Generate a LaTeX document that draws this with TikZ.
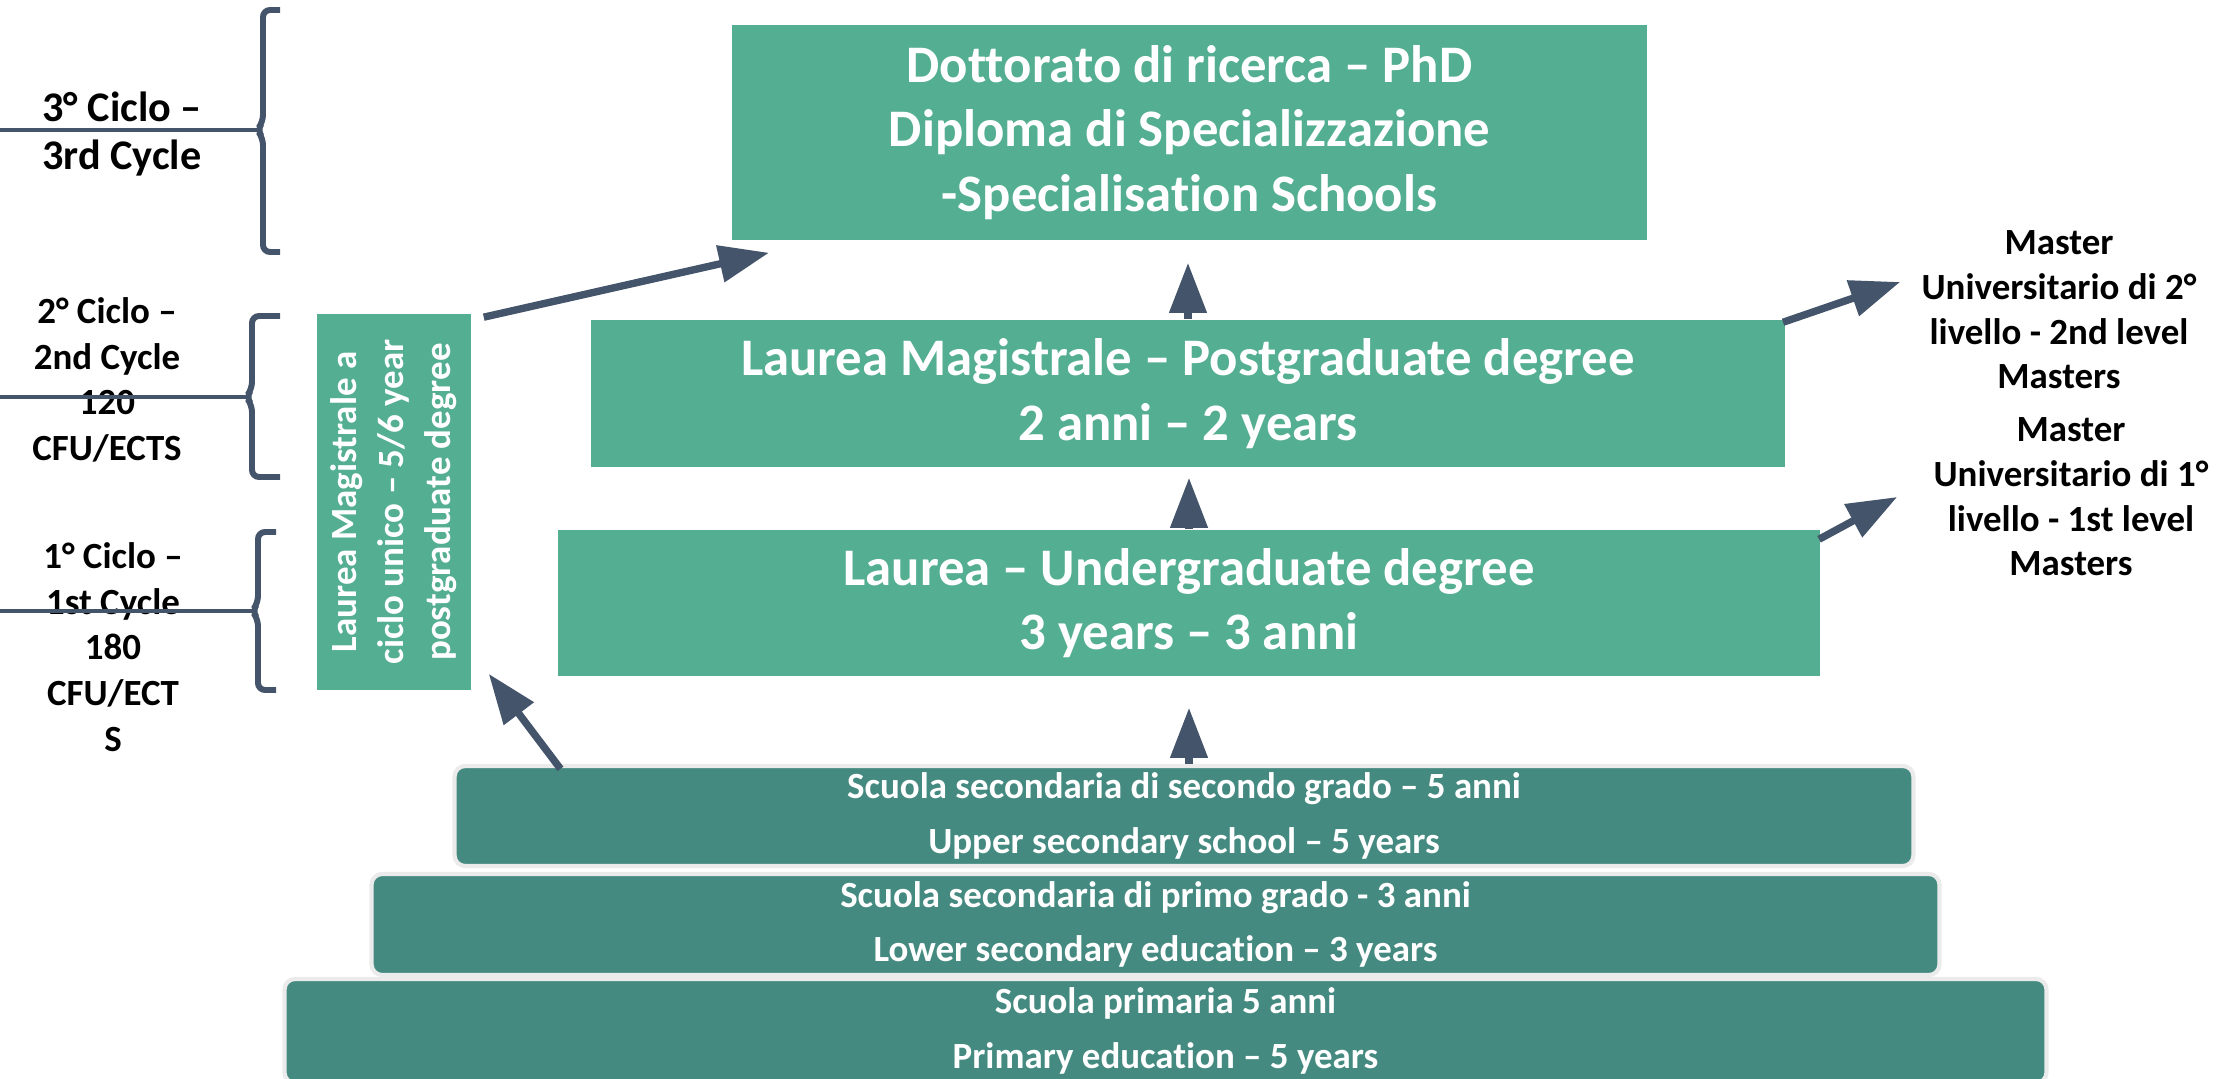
\documentclass[tikz,border=0pt]{standalone}
\usepackage{fontspec}
\setmainfont{Carlito}[Ligatures=NoCommon]
\usepackage{graphicx}
\usetikzlibrary{arrows.meta,calc,positioning}
\definecolor{boxgreen}{RGB}{84,174,145}
\definecolor{boxteal}{RGB}{69,138,128}
\definecolor{linkblue}{RGB}{68,84,106}
\tikzset{
    block/.style = {rectangle, fill=boxgreen, text=white, inner sep=0pt,
        font=\bfseries\fontsize{15}{18.3}\selectfont, align=center},
    school/.style = {rectangle, fill=boxteal, draw=black!8, line width=1.2pt,
        rounded corners=3pt, text=white, inner sep=0pt,
        font=\bfseries\fontsize{10.5}{15.4}\selectfont, align=center},
    cyclelabel/.style = {font=\bfseries\fontsize{10.5}{13}\selectfont, align=center},
    master/.style = {font=\bfseries\fontsize{10.5}{12.7}\selectfont, align=center},
    arrow/.style = {draw=linkblue, line width=2.1pt, -{Triangle[length=5mm,width=3.6mm]}},
    cbrace/.style = {draw=linkblue, line width=1.7pt, rounded corners=2pt},
    edgeline/.style = {draw=linkblue, line width=1pt}
}

\begin{document}
\begin{tikzpicture}[x=0.01cm, y=-0.01cm]
    \useasboundingbox (0,0) rectangle (2217,1079);
    \clip (0,0) rectangle (2217,1079);
    % university degrees
    \node [block, minimum width=9.15cm, minimum height=2.15cm] (phd) at (1189.5,132.5)
        {Dottorato di ricerca – PhD\\ Diploma di Specializzazione\\ -Specialisation Schools};
    \node [block, minimum width=11.94cm, minimum height=1.47cm] (lm) at (1188,393.5)
        {Laurea Magistrale – Postgraduate degree\\ 2 anni – 2 years};
    \node [block, minimum width=12.62cm, minimum height=1.46cm] (lau) at (1189,603)
        {Laurea – Undergraduate degree\\ 3 years – 3 anni};
    \node [block, minimum width=1.54cm, minimum height=3.76cm,
        font=\bfseries\fontsize{10.5}{13.4}\selectfont] (cu) at (394,502)
        {\rotatebox{90}{\begin{tabular}{@{}c@{}}Laurea Magistrale a\\ ciclo unico – 5/6 year\\ postgraduate degree\end{tabular}}};
    % schools
    \node [school, minimum width=14.58cm, minimum height=1.0cm] (upper) at (1184,816)
        {Scuola secondaria di secondo grado – 5 anni\\ Upper secondary school – 5 years};
    \node [school, minimum width=15.67cm, minimum height=1.01cm] (lower) at (1155.5,924.5)
        {Scuola secondaria di primo grado - 3 anni\\ Lower secondary education – 3 years};
    \node [school, minimum width=17.61cm, minimum height=1.04cm] (prim) at (1165.5,1031)
        {Scuola primaria 5 anni\\ Primary education – 5 years};
    % masters
    \node [master] (m2) at (2059,310) {Master\\ Universitario di 2°\\ livello - 2nd level\\ Masters};
    \node [master] (m1) at (2071,497) {Master\\ Universitario di 1°\\ livello - 1st level\\ Masters};
    % cycles
    \node [cyclelabel, font=\bfseries\fontsize{12}{13.7}\selectfont] (c3) at (122,134) {3° Ciclo –\\ 3rd Cycle};
    \node [cyclelabel] (c2) at (107,380) {2° Ciclo –\\ 2nd Cycle\\ 120\\ CFU/ECTS};
    \node [cyclelabel] (c1) at (113,647) {1° Ciclo –\\ 1st Cycle\\ 180\\ CFU/ECT\\ S};
    \draw [cbrace] (280,10) -- (263,10) -- (263,122) -- (257,130) -- (263,138) -- (263,252) -- (280,252);
    \draw [cbrace] (280,316) -- (252,316) -- (252,389) -- (246,397) -- (252,405) -- (252,477) -- (280,477);
    \draw [cbrace] (276,532) -- (258,532) -- (258,603) -- (252,611) -- (258,619) -- (258,690) -- (276,690);
    \coordinate (n3) at (257,130);
    \coordinate (n2) at (246,397);
    \coordinate (n1) at (252,611);
    \coordinate (e3) at (0,130);
    \coordinate (e2) at (0,397);
    \coordinate (e1) at (0,611);
    \draw [edgeline] (e3) -- (n3);
    \draw [edgeline] (e2) -- (n2);
    \draw [edgeline] (e1) -- (n1);
    % arrows
    \draw [arrow] ($(cu.north east)+(12,4)$) -- ($(phd.south west)+(38,12)$);
    \draw [arrow, shorten >=0.22cm] (lm.north) -- (lm.north |- phd.south);
    \draw [arrow, shorten >=0.10cm] (lau.north) -- (lau.north |- lm.south);
    \draw [arrow, shorten >=0.31cm] (lau.south |- upper.north) -- (lau.south);
    \draw [arrow] ($(upper.north west)+(108,5)$) -- ($(cu.south east)+(17,-17)$);
    \draw [arrow] ($(lm.north east)+(-3,3)$) -- ($(m2.west)+(-9,-28)$);
    \draw [arrow] ($(lau.north east)+(-2,10)$) -- ($(m1.west)+(-24,0)$);
\end{tikzpicture}
\end{document}
